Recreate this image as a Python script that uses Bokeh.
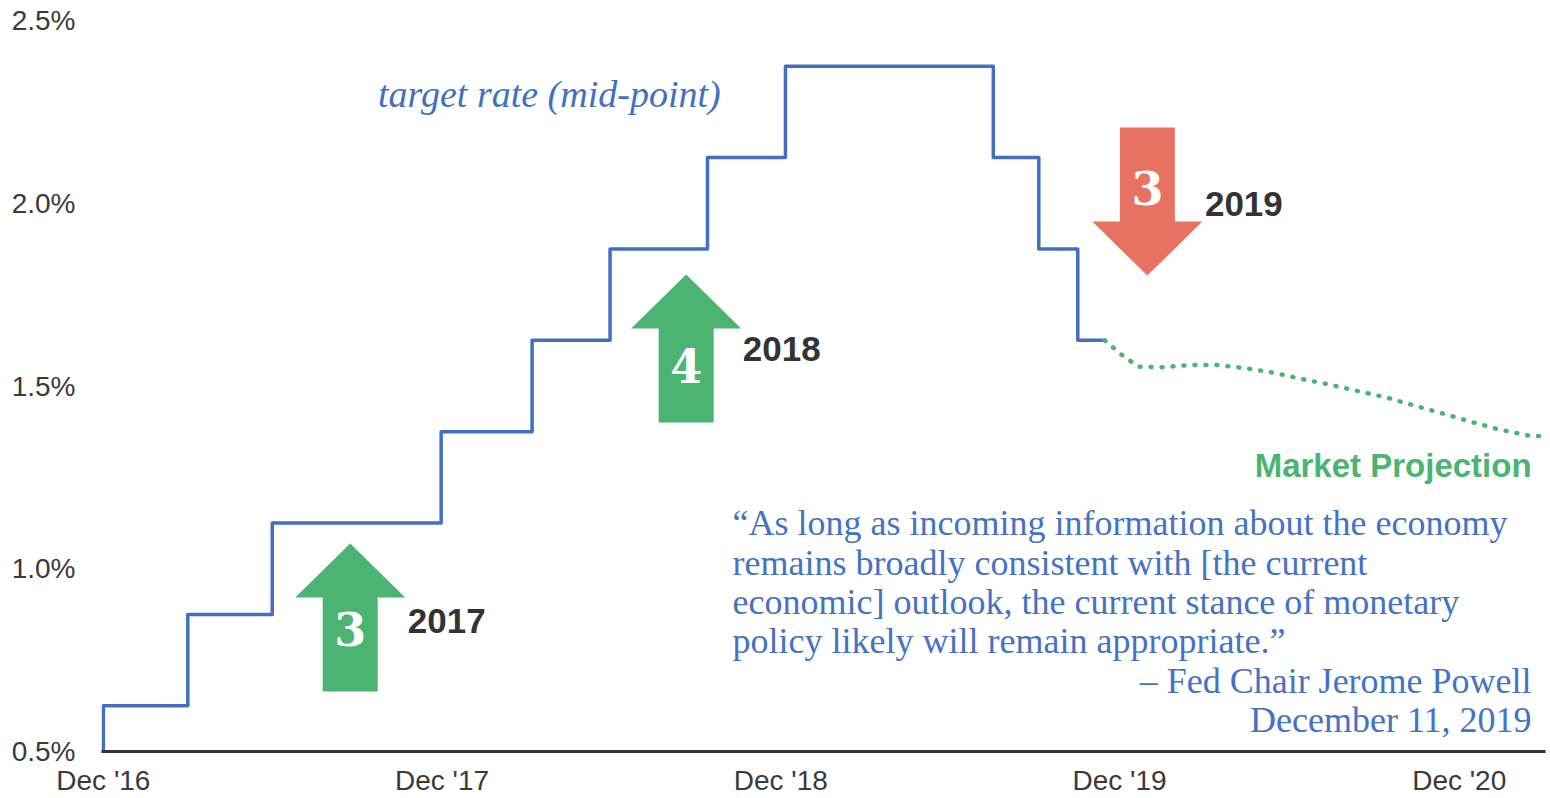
import pandas as pd
from bokeh.plotting import figure
from bokeh.models import Range1d, FixedTicker, DatetimeTickFormatter, Label
from bokeh.embed import file_html
from bokeh.resources import INLINE

# ---------------- data ----------------
# Fed funds target range mid-point (step changes at FOMC decisions)
rate_dates = ["2016-11-01", "2016-12-14", "2017-03-15", "2017-06-14", "2017-12-13",
              "2018-03-21", "2018-06-13", "2018-09-26", "2018-12-19", "2019-07-31",
              "2019-09-18", "2019-10-30", "2019-11-28"]
rate_mid = [0.375, 0.625, 0.875, 1.125, 1.375, 1.625, 1.875, 2.125, 2.375, 2.125,
            1.875, 1.625, 1.625]

# Market projection (futures-implied path)
proj_dates = ["2019-11-28", "2019-12-14", "2020-01-03", "2020-01-26", "2020-02-27",
              "2020-03-26", "2020-04-27", "2020-05-27", "2020-06-26", "2020-07-27",
              "2020-08-27", "2020-09-26", "2020-10-26", "2020-11-26", "2020-12-27",
              "2021-01-26", "2021-02-25", "2021-03-15"]
proj_vals = [1.625, 1.590, 1.553, 1.551, 1.557, 1.558, 1.549, 1.537, 1.520, 1.504,
             1.486, 1.469, 1.447, 1.425, 1.402, 1.381, 1.365, 1.362]

y_ticks = [0.5, 1.0, 1.5, 2.0, 2.5]
y_tick_labels = ["0.5%", "1.0%", "1.5%", "2.0%", "2.5%"]
x_tick_dates = ["2016-12-14", "2017-12-14", "2018-12-14", "2019-12-14", "2020-12-14"]
x_tick_labels = ["Dec '16", "Dec '17", "Dec '18", "Dec '19", "Dec '20"]

# annotation arrows: number of moves per year
arrow_years = ["2017", "2018", "2019"]
arrow_counts = ["3", "4", "3"]
arrow_dates = ["2017-09-06", "2018-09-03", "2020-01-13"]
arrow_tail = [0.664, 1.400, 2.207]
arrow_tip = [1.069, 1.805, 1.802]
arrow_colors = ["#4BB472", "#4BB472", "#E87262"]
year_label_dates = ["2017-11-07", "2018-11-03", "2020-03-15"]
year_label_y = [0.858, 1.600, 1.999]
count_label_y = [0.8365, 1.556, 2.043]

quote_lines = ["\u201cAs long as incoming information about the economy",
               "remains broadly consistent with [the current",
               "economic] outlook, the current stance of monetary",
               "policy likely will remain appropriate.\u201d"]
quote_y = [1.1265, 1.017, 0.908, 0.801]
attrib_lines = ["\u2013 Fed Chair Jerome Powell", "December 11, 2019"]
attrib_y = [0.694, 0.585]


def ms(s):
    return pd.Timestamp(s).value / 1e6


# ---------------- layout ----------------
W, H = 1550, 798
BL, BR, BT, BB = 101, 5, 20, 47
frame_w = W - BL - BR
frame_h = H - BT - BB
x_start, x_end = ms("2016-12-12"), ms("2021-03-17")
y_start, y_end = 0.5, 2.5
ms_per_px = (x_end - x_start) / frame_w
rate_per_px = (y_end - y_start) / frame_h

p = figure(width=W, height=H, x_axis_type="datetime", output_backend="svg",
           toolbar_location=None, min_border_left=BL, min_border_right=BR,
           min_border_top=BT, min_border_bottom=BB,
           x_range=Range1d(x_start, x_end), y_range=Range1d(y_start, y_end))
p.outline_line_color = None
p.xgrid.visible = False
p.ygrid.visible = False
p.background_fill_color = "white"
p.border_fill_color = "white"

TEXT = "#3A3A3A"
BLUE = "#4270BF"
GREEN = "#4BB472"

p.yaxis.ticker = FixedTicker(ticks=y_ticks)
p.yaxis.major_label_overrides = {t: l for t, l in zip(y_ticks, y_tick_labels)}
p.yaxis.axis_line_color = None
p.yaxis.major_tick_line_color = None
p.yaxis.minor_tick_line_color = None
p.yaxis.major_tick_out = 0
p.yaxis.major_tick_in = 0
p.yaxis.minor_tick_out = 0
p.yaxis.major_label_standoff = 26
p.yaxis.major_label_text_font = "Liberation Sans"
p.yaxis.major_label_text_font_size = "28px"
p.yaxis.major_label_text_color = TEXT

p.xaxis.ticker = FixedTicker(ticks=[ms(d) for d in x_tick_dates])
p.xaxis.major_label_overrides = {ms(d): l for d, l in zip(x_tick_dates, x_tick_labels)}
p.xaxis.formatter = DatetimeTickFormatter(days="%b '%y", months="%b '%y", years="%b '%y")
p.xaxis.axis_line_color = "#333333"
p.xaxis.axis_line_width = 3
p.xaxis.major_tick_line_color = None
p.xaxis.minor_tick_line_color = None
p.xaxis.major_tick_out = 0
p.xaxis.major_tick_in = 0
p.xaxis.minor_tick_out = 0
p.xaxis.major_label_standoff = 13
p.xaxis.major_label_text_font = "Liberation Sans"
p.xaxis.major_label_text_font_size = "28px"
p.xaxis.major_label_text_color = TEXT

# ---------------- arrows ----------------
SHAFT_W, HEAD_W, HEAD_H = 55, 110, 54
xs_all, ys_all = [], []
for d, tail, tip in zip(arrow_dates, arrow_tail, arrow_tip):
    xc = ms(d)
    sw = SHAFT_W / 2 * ms_per_px
    hw = HEAD_W / 2 * ms_per_px
    sign = 1 if tip > tail else -1
    base = tip - sign * HEAD_H * rate_per_px
    xs_all.append([xc - sw, xc + sw, xc + sw, xc + hw, xc, xc - hw, xc - sw])
    ys_all.append([tail, tail, base, base, tip, base, base])
p.patches(xs=xs_all, ys=ys_all, fill_color=arrow_colors, line_color=None)

# ---------------- series ----------------
p.step([ms(d) for d in rate_dates], rate_mid, mode="after", line_color=BLUE,
       line_width=3.5, line_join="round")
p.line([ms(d) for d in proj_dates], proj_vals, line_color=GREEN, line_width=4.5,
       line_dash="1 10", line_cap="round")

# ---------------- labels ----------------
for d, y, c in zip(arrow_dates, count_label_y, arrow_counts):
    p.add_layout(Label(x=ms(d), y=y, text=c, text_align="center", text_baseline="middle",
                       text_font="DejaVu Serif", text_font_style="bold",
                       text_font_size="46px", text_color="white"))
for d, y, t in zip(year_label_dates, year_label_y, arrow_years):
    p.add_layout(Label(x=ms(d), y=y, text=t, text_align="left", text_baseline="middle",
                       text_font="Liberation Sans", text_font_style="bold",
                       text_font_size="35px", text_color="#333333"))

p.add_layout(Label(x=ms("2017-10-06"), y=2.300, text="target rate (mid-point)",
                   text_align="left", text_baseline="middle", text_font="Liberation Serif",
                   text_font_style="italic", text_font_size="38px", text_color=BLUE))
p.add_layout(Label(x=ms("2021-03-02"), y=1.2825, text="Market Projection",
                   text_align="right", text_baseline="middle", text_font="Liberation Sans",
                   text_font_style="bold", text_font_size="33px", text_color=GREEN))
for t, y in zip(quote_lines, quote_y):
    p.add_layout(Label(x=ms("2018-10-23"), y=y, text=t, text_align="left",
                       text_baseline="middle", text_font="Liberation Serif",
                       text_font_size="36px", text_color="#4472C4"))
for t, y in zip(attrib_lines, attrib_y):
    p.add_layout(Label(x=ms("2021-03-02"), y=y, text=t, text_align="right",
                       text_baseline="middle", text_font="Liberation Serif",
                       text_font_size="36px", text_color="#4472C4"))

open("out.html", "w").write(file_html(p, INLINE))
